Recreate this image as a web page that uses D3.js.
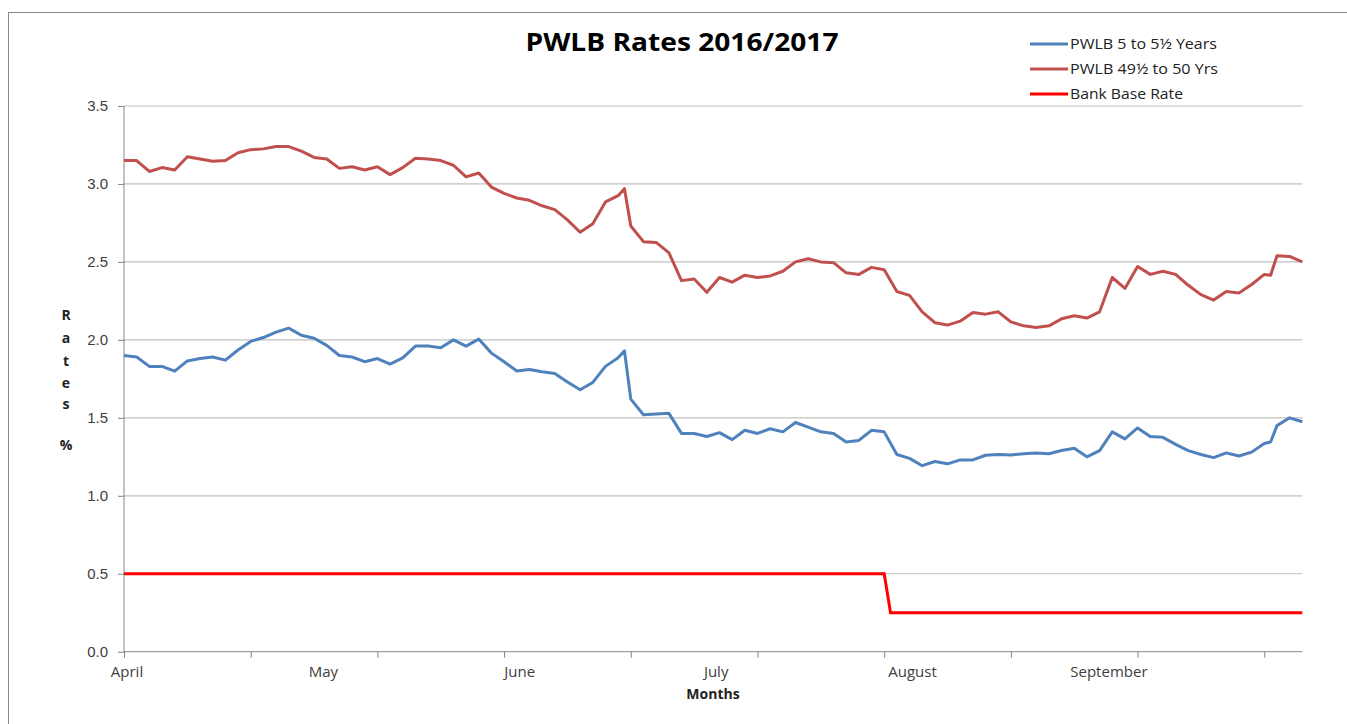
<!DOCTYPE html>
<html>
<head>
<meta charset="utf-8">
<script src="https://cdn.jsdelivr.net/npm/d3@7"></script>
<style>
  body { margin: 0; background: #fff; }
  svg { display: block; font-family: "Open Sans", "Liberation Sans", sans-serif; }
  .axis path, .axis line { stroke: #868686; }
  .axis text { fill: #404040; }
</style>
</head>
<body>
<svg width="1347" height="724"></svg>
<script>
// sample days (category index from 1 April), every 2nd day plus the days around the big jumps
var sampleDays = d3.range(0, 80, 2).concat([79, 80], d3.range(82, 181, 2), [181, 182, 184, 186])

var rate5 = [1.90,1.89,1.83,1.83,1.80,1.865,1.88,1.89,1.87,1.935,
  1.99,2.015,2.05,2.075,2.03,2.01,1.965,1.90,1.89,1.86,
  1.88,1.845,1.885,1.96,1.96,1.95,2.00,1.96,2.005,1.915,
  1.86,1.80,1.81,1.795,1.785,1.73,1.68,1.727,1.83,1.885,
  1.93,1.62,
  1.52,1.525,1.53,1.40,1.40,1.38,1.405,1.36,1.42,
  1.40,1.43,1.41,1.47,1.44,1.41,1.40,1.345,1.355,1.42,
  1.41,1.265,1.24,1.193,1.22,1.205,1.23,1.23,1.26,1.265,
  1.262,1.27,1.275,1.27,1.29,1.305,1.25,1.29,1.41,1.365,
  1.435,1.38,1.375,1.33,1.29,1.265,1.245,1.275,1.255,1.28,
  1.335,
  1.345,1.45,1.50,1.475]

var rate50 = [3.15,3.15,3.08,3.105,3.09,3.175,3.16,3.145,3.15,3.20,
  3.22,3.225,3.24,3.24,3.21,3.17,3.16,3.10,3.11,3.09,
  3.11,3.06,3.105,3.165,3.16,3.15,3.12,3.045,3.07,2.98,
  2.94,2.91,2.895,2.86,2.835,2.77,2.69,2.745,2.885,2.925,
  2.97,2.73,
  2.63,2.625,2.56,2.38,2.39,2.305,2.40,2.37,2.415,
  2.40,2.41,2.44,2.50,2.52,2.50,2.495,2.43,2.42,2.465,
  2.45,2.31,2.285,2.18,2.11,2.095,2.12,2.175,2.165,2.18,
  2.115,2.09,2.08,2.09,2.135,2.155,2.14,2.18,2.40,2.33,
  2.47,2.42,2.44,2.42,2.35,2.29,2.255,2.31,2.30,2.355,
  2.42,
  2.415,2.54,2.535,2.50]

// bank base rate: change points only
var bbrDays = [0, 120, 121, 186]
var bbrRate = [0.5, 0.5, 0.25, 0.25]

var monthNames = ["April", "May", "June", "July", "August", "September"]
var monthDays = [0, 31, 62, 93, 124, 155]
var yTicks = [0, 0.5, 1.0, 1.5, 2.0, 2.5, 3.0, 3.5]
var seriesNames = ["PWLB 5 to 5\u00bd Years", "PWLB 49\u00bd to 50 Yrs", "Bank Base Rate"]
var seriesColors = ["#4f81bd", "#c0504d", "#ff0000"]

var svg = d3.select("svg")

// outer chart border
svg.append("rect").attr("x", 8.5).attr("y", 12.5).attr("width", 1400).attr("height", 800)
  .attr("fill", "none").attr("stroke", "#868686")

var x = d3.scaleLinear().domain([0, 186]).range([124, 1302.3])
var y = d3.scaleLinear().domain([0, 3.5]).range([651.7, 106])

// gridlines
svg.append("g").selectAll("line").data(yTicks.slice(1)).enter()
  .append("line")
  .attr("x1", x(0)).attr("x2", x(186))
  .attr("y1", d => y(d)).attr("y2", d => y(d))
  .attr("stroke", "#c0c0c0").attr("stroke-width", 1.2)

var yAxis = d3.axisLeft(y).tickValues(yTicks).tickFormat(d3.format(".1f")).tickSize(6).tickPadding(10)
svg.append("g").attr("class", "axis").attr("transform", "translate(124,0)").call(yAxis)
  .call(g => g.select(".domain").attr("d", `M0,${y(3.5)}V${y(0)}`))
  .selectAll("text").style("font-size", "15px")

var xAxis = d3.axisBottom(x).tickValues(d3.range(0, 187, 20)).tickFormat("").tickSize(6)
svg.append("g").attr("class", "axis").attr("transform", `translate(0,${y(0)})`).call(xAxis)
  .call(g => g.select(".domain").attr("d", `M${x(0)},0H${x(186)}`))

svg.append("g").selectAll("text").data(monthNames).enter()
  .append("text")
  .attr("x", (d, i) => x(monthDays[i]) + 3)
  .attr("y", 677)
  .attr("text-anchor", "middle")
  .style("font-size", "15px").style("fill", "#404040")
  .text(d => d)

svg.append("text").attr("x", 713).attr("y", 699).attr("text-anchor", "middle")
  .style("font-size", "14px").style("font-weight", "bold").style("fill", "#222")
  .text("Months")

// stacked y-axis title
var yTitle = ["R", "a", "t", "e", "s", "%"]
var yTitlePos = [315, 338, 361, 383, 404, 445]
svg.append("g").selectAll("text").data(yTitle).enter()
  .append("text")
  .attr("x", 66).attr("y", (d, i) => yTitlePos[i] + 5)
  .attr("text-anchor", "middle")
  .style("font-size", "14px").style("font-weight", "bold").style("fill", "#222")
  .text(d => d)

// lines
var line = d3.line().x(d => x(d[0])).y(d => y(d[1]))

svg.append("path")
  .datum(bbrDays.map((d, i) => [d, bbrRate[i]]))
  .attr("d", line).attr("fill", "none")
  .attr("stroke", seriesColors[2]).attr("stroke-width", 3)

svg.append("path")
  .datum(sampleDays.map((d, i) => [d, rate50[i]]))
  .attr("d", line).attr("fill", "none")
  .attr("stroke", seriesColors[1]).attr("stroke-width", 3).attr("stroke-linejoin", "round")

svg.append("path")
  .datum(sampleDays.map((d, i) => [d, rate5[i]]))
  .attr("d", line).attr("fill", "none")
  .attr("stroke", seriesColors[0]).attr("stroke-width", 3).attr("stroke-linejoin", "round")

// title
svg.append("text").attr("x", 682).attr("y", 51).attr("text-anchor", "middle")
  .attr("textLength", 313).attr("lengthAdjust", "spacingAndGlyphs")
  .style("font-size", "25px").style("font-weight", "bold").style("fill", "#000")
  .text("PWLB Rates 2016/2017")

// legend
var legendWidths = [147, 148, 113]
var legend = svg.append("g").selectAll("g").data(seriesNames).enter()
  .append("g").attr("transform", (d, i) => `translate(1030,${44 + i * 25})`)
legend.append("line").attr("x1", 0).attr("x2", 38)
  .attr("stroke", (d, i) => seriesColors[i]).attr("stroke-width", 3)
legend.append("text").attr("x", 40).attr("y", 5)
  .attr("textLength", (d, i) => legendWidths[i]).attr("lengthAdjust", "spacingAndGlyphs")
  .style("font-size", "14px").style("fill", "#222")
  .text(d => d)
</script>
</body>
</html>
